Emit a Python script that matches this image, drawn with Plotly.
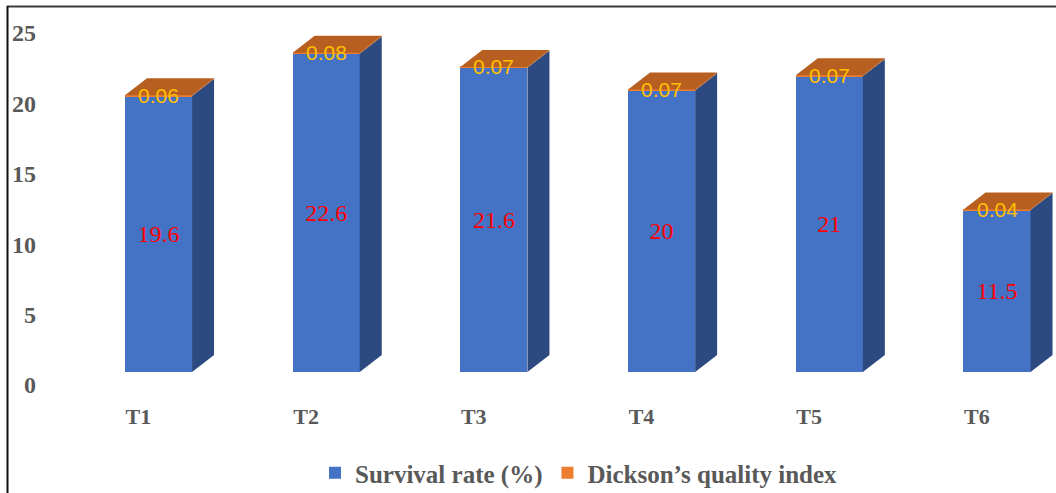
import plotly.graph_objects as go

# Treatments and measured values
treatments = ["T1", "T2", "T3", "T4", "T5", "T6"]
survival_rate = [19.6, 22.6, 21.6, 20, 21, 11.5]
dickson_index = [0.06, 0.08, 0.07, 0.07, 0.07, 0.04]
y_ticks = [0, 5, 10, 15, 20, 25]

W, H = 1056, 493
# plot area in pixels
PX_L, PX_R = 42, 1056
PX_T, PX_B = 20, 372
Y_MAX = 25.0

# category spacing and bar geometry in axis units
X0_PX, STEP_PX = 158.5, 167.7
x_lo = (PX_L - X0_PX) / STEP_PX
x_hi = (PX_R - X0_PX) / STEP_PX
BAR_W = 0.40
DX = 22 / STEP_PX                    # depth offset along x
DY = 17 / ((PX_B - PX_T) / Y_MAX)    # depth offset along y

FRONT_BLUE = "#4472C4"
SIDE_BLUE = "#2C4A80"
FRONT_ORANGE = "#ED7D31"
SIDE_ORANGE = "#9C4A17"
TOP_ORANGE = "#B75F20"
TXT_GREY = "#595959"

xs = list(range(len(treatments)))
totals = [s + d for s, d in zip(survival_rate, dickson_index)]

fig = go.Figure()

fig.add_trace(go.Bar(
    x=xs, y=survival_rate, width=BAR_W, name="Survival rate (%)",
    marker=dict(color=FRONT_BLUE, line=dict(width=0)),
    text=[f"{v:g}" for v in survival_rate], textposition="inside",
    insidetextanchor="middle", textangle=0, constraintext="none",
    textfont=dict(family="Liberation Serif", size=24, color="#FF0000"),
    hoverinfo="skip",
))
fig.add_trace(go.Bar(
    x=xs, y=dickson_index, width=BAR_W, name="Dickson\u2019s quality index",
    marker=dict(color=FRONT_ORANGE, line=dict(width=0)),
    hoverinfo="skip",
))


def face(px, py, color):
    fig.add_trace(go.Scatter(
        x=px, y=py, mode="lines", fill="toself", fillcolor=color,
        line=dict(width=0, color=color), showlegend=False, hoverinfo="skip",
    ))


# depth faces: right side of each stacked segment and the top cap
for x, s, t in zip(xs, survival_rate, totals):
    xr = x + BAR_W / 2
    xl = x - BAR_W / 2
    face([xr, xr, xr + DX, xr + DX, xr], [0, s, s + DY, DY, 0], SIDE_BLUE)
    face([xr, xr, xr + DX, xr + DX, xr], [s, t, t + DY, s + DY, s], SIDE_ORANGE)
    face([xl, xr, xr + DX, xl + DX, xl], [t, t, t + DY, t + DY, t], TOP_ORANGE)

# Dickson index labels on the front top edge
for x, d, t in zip(xs, dickson_index, totals):
    fig.add_annotation(
        x=x, y=t, text=f"{d:g}", showarrow=False, xanchor="center", yanchor="middle",
        font=dict(family="Liberation Sans", size=21, color="#FFC000"),
    )

# outer frame (top and left edges)
fig.add_shape(type="line", xref="paper", yref="paper",
              x0=7 / W, x1=1.0, y0=1 - 6.5 / H, y1=1 - 6.5 / H,
              line=dict(color="#3A3A3A", width=2))
fig.add_shape(type="line", xref="paper", yref="paper",
              x0=7.5 / W, x1=7.5 / W, y0=0, y1=1 - 6 / H,
              line=dict(color="#111111", width=2))

fig.update_layout(
    width=W, height=H, barmode="stack",
    margin=dict(l=0, r=0, t=0, b=0, autoexpand=False),
    paper_bgcolor="white", plot_bgcolor="white",
    showlegend=True,
    legend=dict(
        orientation="h", x=579 / W, y=(H - 473) / H, xanchor="center", yanchor="middle",
        font=dict(family="Liberation Serif", size=25, color=TXT_GREY, weight="bold"),
        traceorder="normal", itemclick=False,
    ),
    xaxis=dict(
        domain=[PX_L / W, PX_R / W], range=[x_lo, x_hi],
        tickmode="array", tickvals=[x - 0.12 for x in xs], ticktext=treatments,
        showgrid=False, zeroline=False, showline=False, ticks="",
        ticklabelstandoff=29,
        tickfont=dict(family="Liberation Serif", size=22, color=TXT_GREY, weight="bold"),
    ),
    yaxis=dict(
        domain=[(H - PX_B) / H, (H - PX_T) / H], range=[0, Y_MAX],
        tickmode="array", tickvals=y_ticks, ticktext=[str(v) for v in y_ticks],
        showgrid=False, zeroline=False, showline=False, ticks="",
        ticklabelshift=13, ticklabelstandoff=5,
        tickfont=dict(family="Liberation Serif", size=24, color=TXT_GREY, weight="bold"),
    ),
)

fig.write_html("out.html")
